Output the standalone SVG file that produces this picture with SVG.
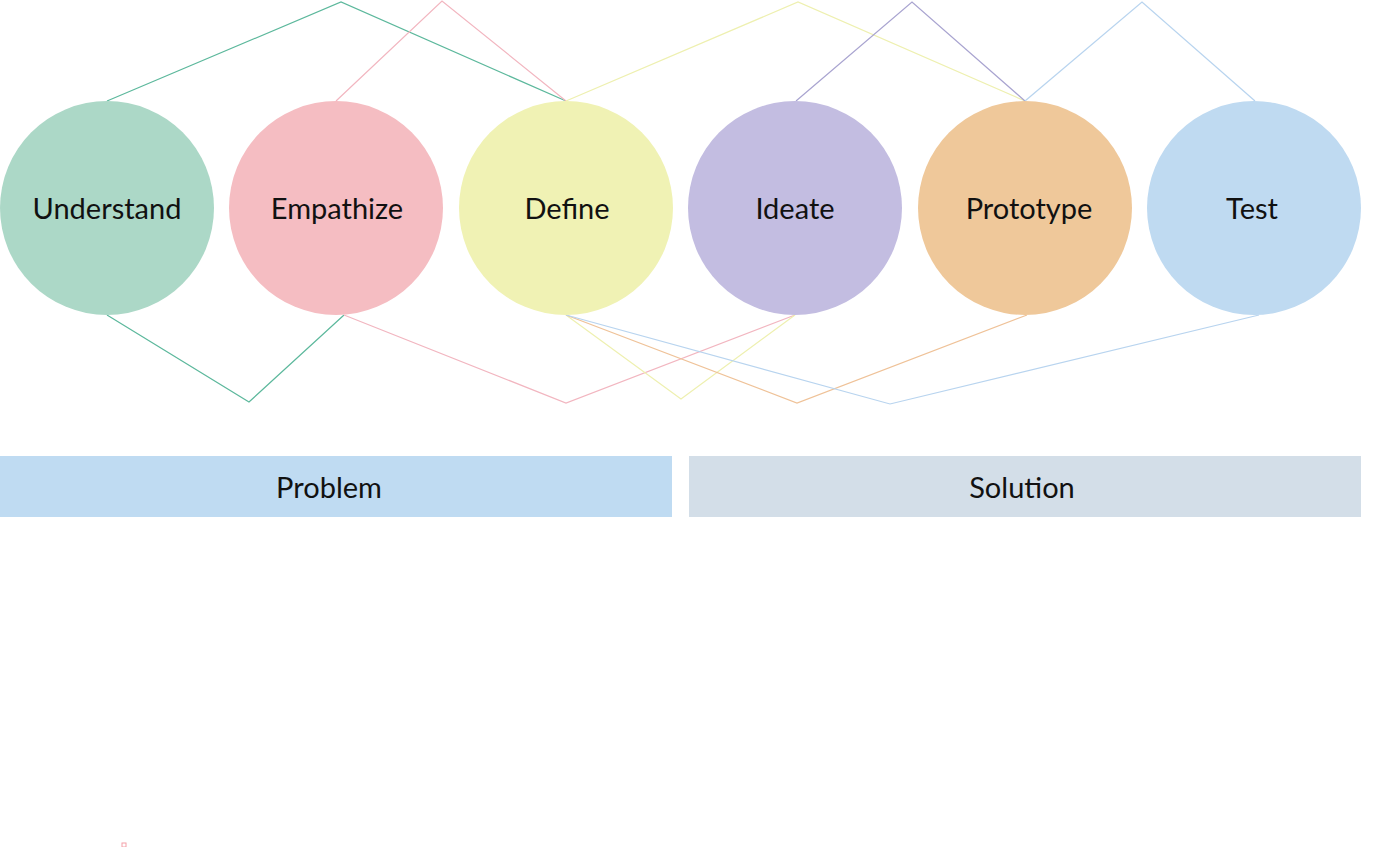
<svg xmlns="http://www.w3.org/2000/svg" width="1400" height="847" viewBox="0 0 1400 847">
<style>
.lbl{font-family:Lato,"Open Sans",sans-serif;font-size:29px;fill:#111;text-anchor:middle;dominant-baseline:central}
.ln{fill:none;stroke-width:1.2;stroke-linejoin:miter}
</style>
<rect width="1400" height="847" fill="#fff"/>
<g id="connectors">
<polyline class="ln" stroke="#5cb89c" points="107,101 341,2 566,101"/>
<polyline class="ln" stroke="#f2b6c0" points="336,101 442,1 566,101"/>
<polyline class="ln" stroke="#eef0b0" points="566,101 798,2 1025,101"/>
<polyline class="ln" stroke="#a9a4d0" points="796,101 912,2 1025,101"/>
<polyline class="ln" stroke="#b8d4ef" points="1025,101 1142,2 1255,101"/>
<polyline class="ln" stroke="#5cb89c" points="107,315 249,402 344,315"/>
<polyline class="ln" stroke="#f2b6c0" points="344,315 566,403 795,315"/>
<polyline class="ln" stroke="#eef0b0" points="566,315 681,399 795,315"/>
<polyline class="ln" stroke="#efc298" points="566,315 797,403 1027,315"/>
<polyline class="ln" stroke="#b8d4ef" points="566,315 890,404 1259,315"/>
</g>
<g id="understand"><circle cx="107" cy="208" r="107" fill="#acd8c7"/><text class="lbl" x="107" y="207">Understand</text></g>
<g id="empathize"><circle cx="336" cy="208" r="107" fill="#f5bdc2"/><text class="lbl" x="337" y="207">Empathize</text></g>
<g id="define"><circle cx="566" cy="208" r="107" fill="#f0f2b4"/><text class="lbl" x="567" y="207">Define</text></g>
<g id="ideate"><circle cx="795" cy="208" r="107" fill="#c3bde1"/><text class="lbl" x="795" y="207">Ideate</text></g>
<g id="prototype"><circle cx="1025" cy="208" r="107" fill="#efc89a"/><text class="lbl" x="1029" y="207">Prototype</text></g>
<g id="test"><circle cx="1254" cy="208" r="107" fill="#bfdaf1"/><text class="lbl" x="1252" y="207">Test</text></g>
<g id="problem"><rect x="0" y="456" width="672" height="61" fill="#bfdbf2"/><text class="lbl" x="329" y="486">Problem</text></g>
<g id="solution"><rect x="689" y="456" width="672" height="61" fill="#d3dee8"/><text class="lbl" x="1022" y="486">Solution</text></g>
<rect x="122" y="843" width="4" height="4" fill="none" stroke="#f4a0a8" stroke-width="1"/>
</svg>
